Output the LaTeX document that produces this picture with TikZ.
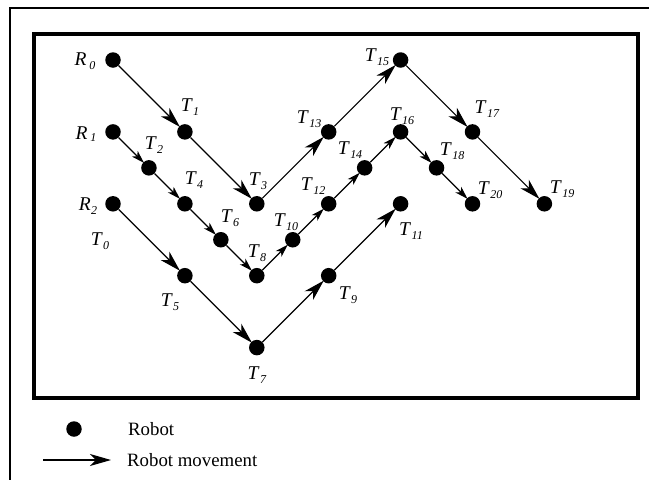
\documentclass[tikz,border=0pt]{standalone}
\usepackage{fontspec}
\setmainfont{Liberation Serif}
\usetikzlibrary{arrows.meta}
\newcommand\tl[2]{\textit{#1}\kern0.5pt\raisebox{-0.45ex}{\fontsize{12}{12}\selectfont\textit{#2}}}
\begin{document}
\begin{tikzpicture}[x=1pt,y=-1pt,
  dot/.style={circle,fill=black,inner sep=0pt,minimum size=15.5pt},
  lab/.style={inner sep=0pt,font=\fontsize{19.5}{21}\selectfont},
  leglab/.style={inner sep=0pt,font=\fontsize{18.8}{20}\selectfont},
  bigarrow/.style={line width=1.2pt,-{Stealth[length=21pt,width=12pt,inset=6pt]},shorten >=-1pt},
  smallarrow/.style={line width=1.2pt,-{Stealth[length=13pt,width=8pt,inset=3.5pt]},shorten >=-1pt}]
\useasboundingbox (0,0) rectangle (649,480);
% frames
\draw[line width=2.6pt] (10,481) -- (10,8) -- (650,8);
\draw[line width=3.6pt] (34,34) rectangle (638,398);
% nodes
\def\gx#1{113+35.95*#1}
\def\gy#1{60+35.95*#1}
\foreach \n/\c/\r in {R0/0/0,T1/2/2,R1/0/2,T2/1/3,T4/2/4,R2/0/4,T6/3/5,T8/4/6,T3/4/4,T10/5/5,T12/6/4,T13/6/2,T14/7/3,T16/8/2,T15/8/0,T17/10/2,T18/9/3,T20/10/4,T19/12/4,T11/8/4,T5/2/6,T7/4/8,T9/6/6}
  \node[dot] (\n) at ({\gx{\c}},{\gy{\r}}) {};
% labels
\node[lab] (lR0) at (85,61) {\textit{R}\kern3pt\raisebox{-0.45ex}{\fontsize{12}{12}\selectfont\textit{0}}};
\node[lab] (lR1) at (86,134) {\textit{R}\kern3pt\raisebox{-0.2ex}{\fontsize{12}{12}\selectfont\textit{1}}};
\node[lab] (lR2) at (88,206) {\tl{R}{2}};
\node[lab] (lT0) at (100,241) {\tl{T}{0}};
\node[lab] (lT1) at (190,107) {\tl{T}{1}};
\node[lab] (lT2) at (154,145) {\tl{T}{2}};
\node[lab] (lT3) at (258,181) {\tl{T}{3}};
\node[lab] (lT4) at (194,180) {\tl{T}{4}};
\node[lab] (lT5) at (170,302) {\tl{T}{5}};
\node[lab] (lT6) at (230,218) {\tl{T}{6}};
\node[lab] (lT7) at (257,375) {\tl{T}{7}};
\node[lab] (lT8) at (257,253) {\tl{T}{8}};
\node[lab] (lT9) at (348,295) {\tl{T}{9}};
\node[lab] (lT10) at (286,222) {\tl{T}{10}};
\node[lab] (lT11) at (411,231) {\tl{T}{11}};
\node[lab] (lT12) at (313,186) {\tl{T}{12}};
\node[lab] (lT13) at (309,119) {\tl{T}{13}};
\node[lab] (lT14) at (350,150) {\tl{T}{14}};
\node[lab] (lT15) at (377,57) {\tl{T}{15}};
\node[lab] (lT16) at (402,116) {\tl{T}{16}};
\node[lab] (lT17) at (487,109) {\tl{T}{17}};
\node[lab] (lT18) at (452,151) {\tl{T}{18}};
\node[lab] (lT19) at (562,189) {\tl{T}{19}};
\node[lab] (lT20) at (490,190) {\tl{T}{20}};
% connectors
\foreach \a/\b in {R0/T1,T1/T3,T3/T13,T13/T15,T15/T17,T17/T19,R2/T5,T5/T7,T7/T9,T9/T11}
  \draw[bigarrow] (\a) -- (\b);
\foreach \a/\b in {R1/T2,T2/T4,T4/T6,T6/T8,T8/T10,T10/T12,T12/T14,T14/T16,T16/T18,T18/T20}
  \draw[smallarrow] (\a) -- (\b);
% legend
\node[dot] (legdot) at (74,429) {};
\node[leglab,anchor=west] (legrobot) at (128,429) {Robot};
\coordinate (legA) at (43,460);
\coordinate (legB) at (111,460);
\draw[bigarrow,shorten >=0pt] (legA) -- (legB);
\node[leglab,anchor=west] (legmove) at (127,460) {Robot movement};
\end{tikzpicture}
\end{document}
